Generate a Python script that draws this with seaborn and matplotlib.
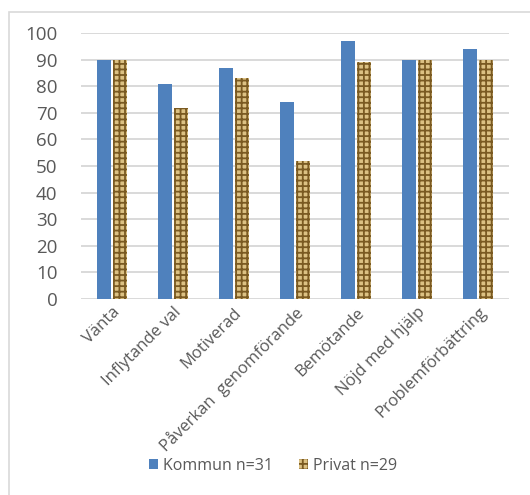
import matplotlib
matplotlib.use("Agg")
import matplotlib.pyplot as plt
from matplotlib.patches import Rectangle, Patch
import pandas as pd
import seaborn as sns

categories = ["Vänta", "Inflytande val", "Motiverad", "Påverkan  genomförande",
              "Bemötande", "Nöjd med hjälp", "Problemförbättring"]
kommun = [90, 81, 87, 74, 97, 90, 94]
privat = [90, 72, 83, 52, 89, 90, 90]
series_names = ["Kommun n=31", "Privat n=29"]
y_ticks = [0, 10, 20, 30, 40, 50, 60, 70, 80, 90, 100]

df = pd.DataFrame({
    "kategori": categories * 2,
    "andel": kommun + privat,
    "grupp": [series_names[0]] * len(categories) + [series_names[1]] * len(categories),
})

sns.set_theme(style="white")
plt.rcParams["font.family"] = ["Open Sans", "DejaVu Sans"]
plt.rcParams["hatch.color"] = "#7a5a22"
plt.rcParams["hatch.linewidth"] = 1.3

blue = "#4f81bd"
tan = "#dcc183"
text_grey = "#595959"

fig = plt.figure(figsize=(5.30, 4.95), dpi=100)
ax = fig.add_axes([0.153, 0.396, 0.807, 0.537])

sns.barplot(data=df, x="kategori", y="andel", hue="grupp",
            palette=[blue, tan], width=0.52, gap=0.12, saturation=1,
            legend=False, ax=ax, zorder=3)

n = len(categories)
for i, p in enumerate(ax.patches):
    if i >= n:
        p.set_hatch("+++")
        p.set_edgecolor("#7a5a22")
        p.set_linewidth(0)
    else:
        p.set_edgecolor("none")

ax.set_ylim(0, 100)
ax.set_yticks(y_ticks)
ax.set_xlim(-0.5, n - 0.5)
ax.yaxis.grid(True, color="#d9d9d9", linewidth=1.4, zorder=0)
ax.set_axisbelow(True)
for s in ax.spines.values():
    s.set_visible(False)
ax.set_xlabel("")
ax.set_ylabel("")
ax.tick_params(axis="y", labelsize=13.5, labelcolor=text_grey, length=0, pad=17)
ax.tick_params(axis="x", length=0, pad=4)
ax.set_xticks(range(n))
ax.set_xticklabels(categories, rotation=45, ha="right", rotation_mode="anchor",
                   fontsize=12, color=text_grey)

# chart frame
fig.patches.append(Rectangle((9 / 530, -0.1), 1.2, 1 - 12 / 495 + 0.1,
                             transform=fig.transFigure, fill=False,
                             edgecolor="#d9d9d9", linewidth=1.2))

handles = [Patch(facecolor=blue, edgecolor="none", label=series_names[0]),
           Patch(facecolor=tan, edgecolor="#7a5a22", linewidth=0, hatch="+++",
                 label=series_names[1])]
fig.legend(handles=handles, loc="center", bbox_to_anchor=(0.515, 0.059),
           ncol=2, frameon=False, fontsize=11.5, labelcolor=text_grey,
           handlelength=0.6, handleheight=0.6, handletextpad=0.3,
           columnspacing=1.6)

fig.savefig("out.png", dpi=100)
